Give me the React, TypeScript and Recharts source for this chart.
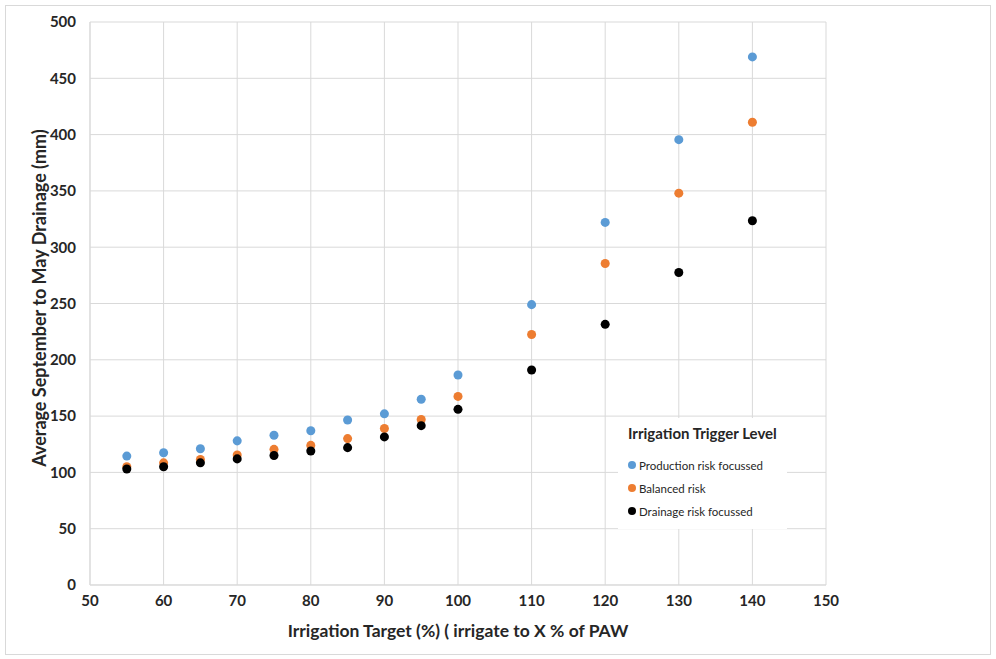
import {
  CartesianGrid,
  Scatter,
  ScatterChart,
  XAxis,
  YAxis,
  ZAxis
} from "recharts";

const targets = [55, 60, 65, 70, 75, 80, 85, 90, 95, 100, 110, 120, 130, 140];
const production = [114.5, 117.5, 121, 128, 133, 137, 146.5, 152, 165, 186.5, 249, 322, 395.5, 469];
const balanced = [105, 108.5, 111.5, 115.5, 120.5, 124, 130, 139, 147, 167.5, 222.5, 285.5, 348, 411];
const drainage = [103, 105, 108.5, 112, 115, 119, 122, 131.5, 141.5, 156, 191, 231.5, 277.5, 323.5];

const xTicks = [50, 60, 70, 80, 90, 100, 110, 120, 130, 140, 150];
const yTicks = [0, 50, 100, 150, 200, 250, 300, 350, 400, 450, 500];

const series = [
  { name: "Production risk focussed", values: production, color: "#5b9bd5" },
  { name: "Balanced risk", values: balanced, color: "#ed7d31" },
  { name: "Drainage risk focussed", values: drainage, color: "#000000" }
];

const font = "Lato, 'Open Sans', sans-serif";
const yTitle = "Average September to May Drainage (mm)";

// legend drawn as an overlay so it does not shrink the plot area
function TriggerLegend() {
  return (
    <div
      style={{
        position: "absolute",
        left: 618,
        top: 418,
        background: "#fff",
        padding: "6px 10px 2px 10px",
        fontFamily: font,
        color: "#262626"
      }}
    >
      <div style={{ fontWeight: 700, fontSize: 15, marginBottom: 16 }}>Irrigation Trigger Level</div>
      {series.map((s) => (
        <div
          key={s.name}
          style={{ display: "flex", alignItems: "center", fontSize: 11.5, height: 14, marginBottom: 9 }}
        >
          <span
            style={{
              display: "inline-block",
              width: 8,
              height: 8,
              borderRadius: 4,
              background: s.color,
              marginRight: 3
            }}
          />
          {s.name}
        </div>
      ))}
    </div>
  );
}

function YTitle() {
  const cx = 39;
  const cy = 298;
  return (
    <text
      x={cx}
      y={cy}
      transform={`rotate(-90, ${cx}, ${cy})`}
      textAnchor="middle"
      dominantBaseline="central"
      fill="#262626"
      fontSize={18}
      fontWeight={700}
    >
      {yTitle}
    </text>
  );
}

export default function App() {
  return (
    <div
      style={{
        position: "absolute",
        left: 0,
        top: 0,
        width: 996,
        height: 659,
        background: "#fff"
      }}
    >
      <div
        style={{
          position: "absolute",
          left: 5,
          top: 5,
          width: 986,
          height: 650,
          border: "1px solid #d9d9d9",
          boxSizing: "border-box"
        }}
      />
      <ScatterChart
        width={996}
        height={659}
        margin={{ top: 22, right: 170, bottom: 44, left: 30 }}
        style={{ fontFamily: font }}
      >
        <CartesianGrid stroke="#d9d9d9" strokeWidth={1} />
        <XAxis
          type="number"
          dataKey="x"
          domain={[50, 150]}
          ticks={xTicks}
          interval={0}
          height={30}
          tickLine={false}
          axisLine={{ stroke: "#d9d9d9" }}
          tick={{ fill: "#262626", fontSize: 15, fontWeight: 700 }}
          tickMargin={4}
          label={{
            value: "Irrigation Target (%) ( irrigate to X % of PAW",
            position: "bottom",
            offset: 10,
            fill: "#262626",
            fontSize: 17.5,
            fontWeight: 700
          }}
        />
        <YAxis
          type="number"
          dataKey="y"
          domain={[0, 500]}
          ticks={yTicks}
          interval={0}
          width={60}
          tickLine={false}
          axisLine={{ stroke: "#d9d9d9" }}
          tick={{ fill: "#262626", fontSize: 15, fontWeight: 700 }}
          tickMargin={8}
          label={<YTitle />}
        />
        <ZAxis range={[64, 64]} />
        {series.map((s) => (
          <Scatter
            key={s.name}
            name={s.name}
            data={targets.map((t, i) => ({ x: t, y: s.values[i] }))}
            fill={s.color}
            isAnimationActive={false}
          />
        ))}
      </ScatterChart>
      <TriggerLegend />
    </div>
  );
}
